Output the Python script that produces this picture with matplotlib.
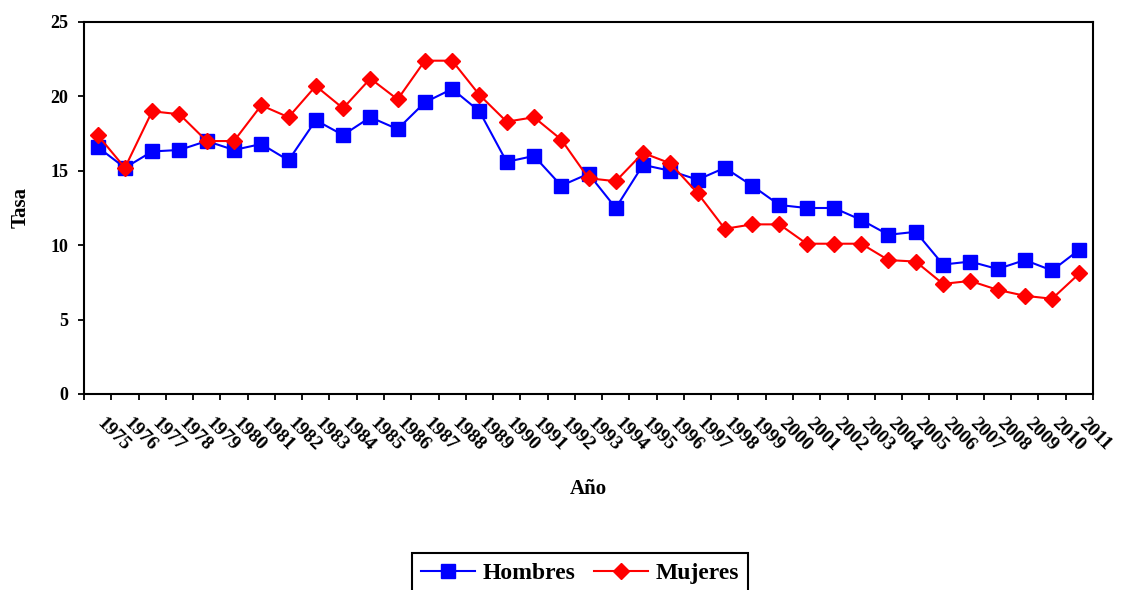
import matplotlib.pyplot as plt
from matplotlib.transforms import ScaledTranslation

years = [str(y) for y in range(1975, 2012)]

hombres = [16.6, 15.2, 16.3, 16.4, 17.0, 16.4, 16.8, 15.7, 18.4, 17.4,
           18.6, 17.8, 19.6, 20.5, 19.0, 15.6, 16.0, 14.0, 14.8, 12.5,
           15.4, 15.0, 14.4, 15.2, 14.0, 12.7, 12.5, 12.5, 11.7, 10.7,
           10.9, 8.7, 8.9, 8.4, 9.0, 8.3, 9.7]
mujeres = [17.4, 15.2, 19.0, 18.8, 17.0, 17.0, 19.4, 18.6, 20.7, 19.2,
           21.2, 19.8, 22.4, 22.4, 20.1, 18.3, 18.6, 17.1, 14.5, 14.3,
           16.2, 15.5, 13.5, 11.1, 11.4, 11.4, 10.1, 10.1, 10.1, 9.0,
           8.9, 7.4, 7.6, 7.0, 6.6, 6.4, 8.1]

plt.rcParams['font.family'] = ['Liberation Serif', 'DejaVu Serif']
plt.rcParams['font.weight'] = 'bold'

fig = plt.figure(figsize=(11.28, 5.9), dpi=100)
# axes box: x 84..1093, y 22..394 (pixels)
ax = fig.add_axes([84 / 1128, 1 - 394 / 590, 1009 / 1128, 372 / 590])

x = list(range(len(years)))
ax.plot(x, hombres, color='#0000ff', lw=1.5, marker='s', ms=10, label='Hombres')
ax.plot(x, mujeres, color='#ff0000', lw=1.5, marker='D', ms=8.5, label='Mujeres')

ax.set_xlim(-0.5, len(years) - 0.5)
ax.set_ylim(0, 25)
ax.set_yticks([0, 5, 10, 15, 20, 25])
ax.tick_params(axis='y', labelsize=13, direction='out', length=4.3, width=1.3, pad=7)

# tick marks at category boundaries, labels at centres
ax.set_xticks([i - 0.5 for i in range(len(years) + 1)])
ax.set_xticklabels([])
ax.tick_params(axis='x', which='major', direction='out', length=4, width=1.3)
ax.set_xticks(x, minor=True)
ax.set_xticklabels(years, minor=True, rotation=-45, ha='left', va='top',
                   rotation_mode='anchor', fontsize=14, fontweight='bold')
ax.tick_params(axis='x', which='minor', length=0, pad=15)
offset = ScaledTranslation(8 / 100, 0, fig.dpi_scale_trans)
for lbl in ax.get_xticklabels(minor=True):
    lbl.set_transform(lbl.get_transform() + offset)

for lbl in ax.get_yticklabels():
    lbl.set_fontweight('bold')

for s in ax.spines.values():
    s.set_linewidth(1.5)

fig.text(588 / 1128, 1 - 489 / 590, 'Año', ha='center', va='center',
         fontsize=15, fontweight='bold')
fig.text(21 / 1128, 1 - 208 / 590, 'Tasa', ha='center', va='center',
         rotation=90, fontsize=15, fontweight='bold')

# legend sits at the bottom edge, partly cut off as in the original
leg = fig.legend(loc='upper center', bbox_to_anchor=(580 / 1128, 1 - 553 / 590),
                 ncol=2, fancybox=False, edgecolor='black', framealpha=1,
                 prop={'size': 17, 'weight': 'bold'}, handlelength=2.3,
                 columnspacing=0.8, handletextpad=0.3, borderpad=0.4,
                 borderaxespad=0)
leg.get_frame().set_linewidth(1.5)

fig.savefig('out.png', dpi=100)
